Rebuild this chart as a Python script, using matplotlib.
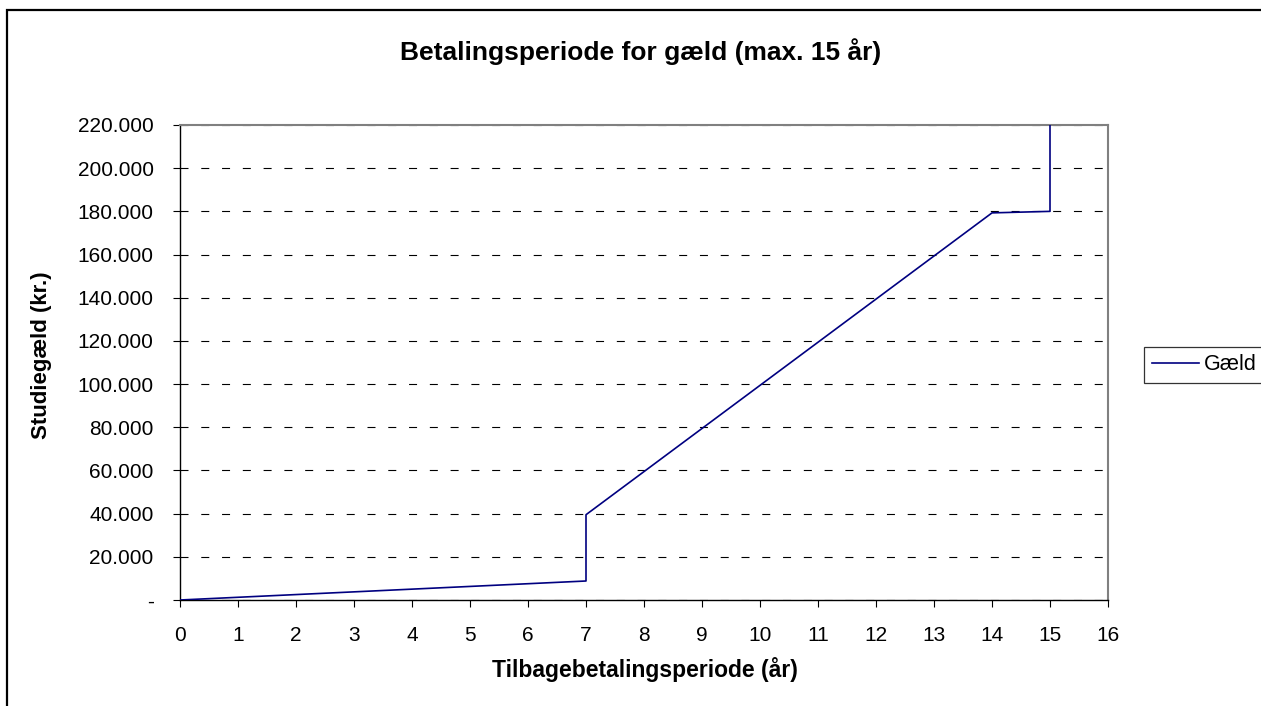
#!/usr/bin/env python3
import matplotlib

matplotlib.use("Agg")
import matplotlib.pyplot as plt
from matplotlib.patches import Rectangle
from matplotlib.ticker import FuncFormatter, MultipleLocator

years = [0, 7, 7, 14, 15, 15]
debt = [0, 8800, 39500, 179300, 180000, 220000]
x_ticks = list(range(0, 17))
y_step = 20000
y_max = 220000

LINE_COLOR = "#000080"
FRAME_GRAY = "#808080"

plt.rcParams.update(
    {
        "font.family": ["Liberation Sans", "DejaVu Sans"],
        "font.size": 14,
    }
)


def thousands(value, _pos):
    if abs(value) < 1:
        return "-"
    return f"{int(round(value)):,}".replace(",", ".")


fig = plt.figure(figsize=(12.61, 7.06), dpi=100)
ax = fig.add_axes([180 / 1261, 1 - 600 / 706, (1108 - 180) / 1261, (600 - 125) / 706])

ax.plot(years, debt, color=LINE_COLOR, linewidth=1.2, label="Gæld", zorder=3)

ax.set_xlim(0, 16)
ax.set_ylim(0, y_max)
ax.set_xticks(x_ticks)
ax.yaxis.set_major_locator(MultipleLocator(y_step))
ax.yaxis.set_major_formatter(FuncFormatter(thousands))
ax.tick_params(axis="both", direction="out", length=5, width=0.8, colors="black")
ax.tick_params(axis="x", pad=14, labelsize=15)
ax.tick_params(axis="y", pad=14, labelsize=15)

ax.grid(axis="y", color="black", linewidth=0.8, linestyle=(0, (7.2, 11.5)), zorder=1)
ax.set_axisbelow(True)

for side in ["left", "bottom"]:
    ax.spines[side].set_color("black")
    ax.spines[side].set_linewidth(1.0)
for side in ["top", "right"]:
    ax.spines[side].set_color(FRAME_GRAY)
    ax.spines[side].set_linewidth(1.5)

fig.text(641 / 1261, 1 - 52 / 706, "Betalingsperiode for gæld (max. 15 år)",
         ha="center", va="center", fontsize=19, fontweight="bold")
fig.text(645 / 1261, 1 - 670 / 706, "Tilbagebetalingsperiode (år)",
         ha="center", va="center", fontsize=16.5, fontweight="bold")
fig.text(42 / 1261, 1 - 355 / 706, "Studiegæld (kr.)",
         ha="center", va="center", rotation=90, fontsize=16, fontweight="bold")

legend = fig.legend(
    loc="center left",
    bbox_to_anchor=(1144 / 1261, 1 - 365 / 706),
    frameon=True,
    fancybox=False,
    fontsize=15.5,
    handlelength=2.2,
    handletextpad=0.25,
    borderpad=0.35,
    borderaxespad=0,
)
legend.get_frame().set_edgecolor("black")
legend.get_frame().set_linewidth(0.9)

fig.patches.append(
    Rectangle((7 / 1261, -0.1), 1.2, 1 - 10 / 706 + 0.1, transform=fig.transFigure,
              fill=False, edgecolor="black", linewidth=1.6, zorder=0)
)

fig.savefig("out.png", dpi=100)
